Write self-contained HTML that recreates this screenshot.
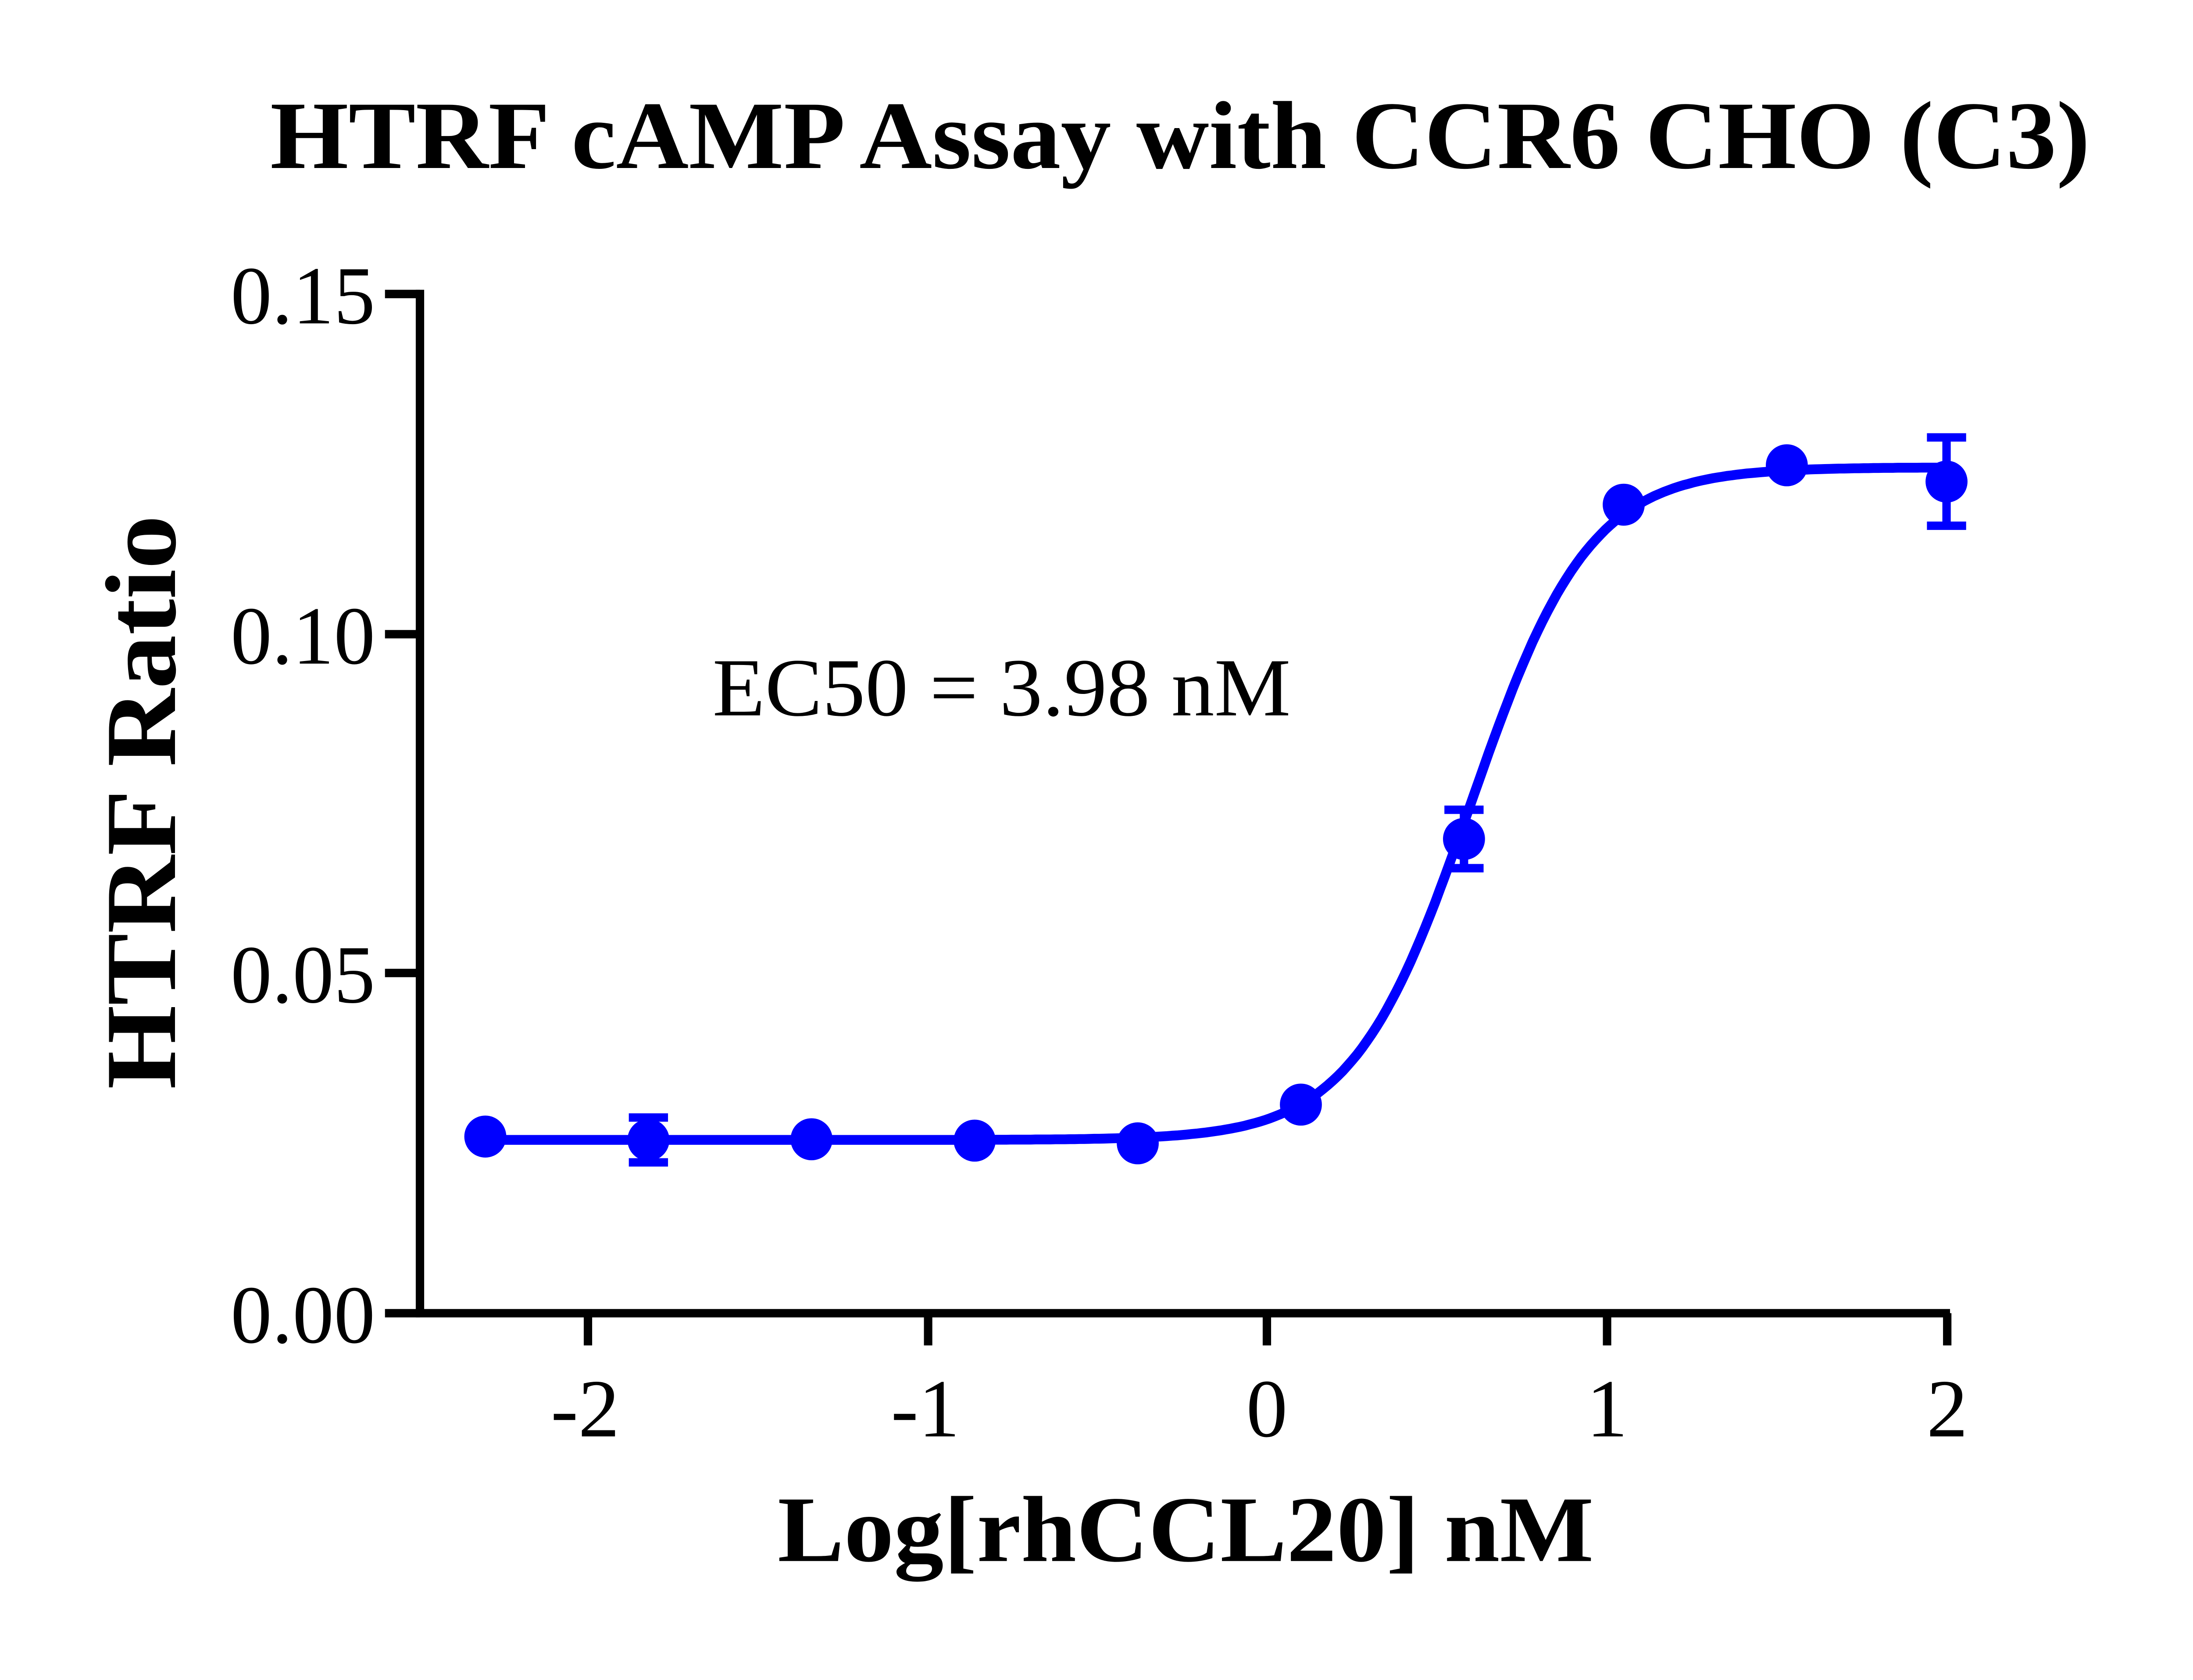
<!DOCTYPE html>
<html><head><meta charset="utf-8"><style>
html,body{margin:0;padding:0;background:#fff;}
svg{display:block;}
</style></head><body>
<svg id="s" width="5078" height="3830" viewBox="0 0 1591 1200" preserveAspectRatio="none" xmlns="http://www.w3.org/2000/svg">
<rect width="1591" height="1200" fill="#fff"/>
<text x="843" y="120" text-anchor="middle" font-family="Liberation Serif, serif" font-weight="bold" font-size="69" textLength="1300" lengthAdjust="spacingAndGlyphs">HTRF cAMP Assay with CCR6 CHO (C3)</text>
<g stroke="#000" stroke-width="6" fill="none">
<path d="M300 207 V938 H1393"/>
<path d="M275 210 H300 M275 453 H300 M275 695 H300 M275 938 H300"/>
<path d="M420 938 V961 M663 938 V961 M905 938 V961 M1148 938 V961 M1391 938 V961"/>
</g>
<g font-family="Liberation Serif, serif" font-size="59" text-anchor="end">
<text x="268" y="231">0.15</text>
<text x="268" y="474">0.10</text>
<text x="268" y="716">0.05</text>
<text x="268" y="959">0.00</text>
</g>
<g font-family="Liberation Serif, serif" font-size="59" text-anchor="middle">
<text x="418" y="1026">-2</text>
<text x="661" y="1026">-1</text>
<text x="905" y="1026">0</text>
<text x="1148" y="1026">1</text>
<text x="1391" y="1026">2</text>
</g>
<text x="847" y="1115" text-anchor="middle" font-family="Liberation Serif, serif" font-weight="bold" font-size="67" textLength="583" lengthAdjust="spacingAndGlyphs">Log[rhCCL20] nM</text>
<text transform="translate(125 573) rotate(-90)" text-anchor="middle" font-family="Liberation Serif, serif" font-weight="bold" font-size="72" textLength="410" lengthAdjust="spacingAndGlyphs">HTRF Ratio</text>
<text x="509" y="511" font-family="Liberation Serif, serif" font-size="59" textLength="413" lengthAdjust="spacingAndGlyphs">EC50 = 3.98 nM</text>
<g id="d"></g>
</svg>
<script>
var X=function(x){return 905+242.75*x},Y=function(y){return 938-4853*y};
var f=function(x){return 0.0255+0.099/(1+Math.pow(10,(0.6-x)*2.5));};
var p="";for(var i=0;i<=300;i++){var x=-2.3+4.3*i/300;p+=(i?"L":"M")+X(x).toFixed(1)+" "+Y(f(x)).toFixed(1);}
var pts=[[-2.3,.026,0],[-1.82,.0255,.0033],[-1.34,.0256,0],[-0.86,.0254,0],[-0.38,.025,0],[0.1,.0307,0],[0.58,.0698,.0043],[1.05,.119,0],[1.53,.1248,0],[2.0,.1224,.0065]];
var h='<path d="'+p+'" stroke="#0000ff" stroke-width="7" fill="none"/>';
pts.forEach(function(q){var cx=X(q[0]),cy=Y(q[1]);
if(q[2]){var t=Y(q[1]+q[2]),b=Y(q[1]-q[2]);h+='<path d="M'+cx+' '+t+'V'+b+'M'+(cx-14)+' '+t+'H'+(cx+14)+'M'+(cx-14)+' '+b+'H'+(cx+14)+'" stroke="#0000ff" stroke-width="6" fill="none"/>';}
h+='<circle cx="'+cx+'" cy="'+cy+'" r="15" fill="#0000ff"/>';});
document.getElementById("d").innerHTML=h;
</script>
</body></html>
